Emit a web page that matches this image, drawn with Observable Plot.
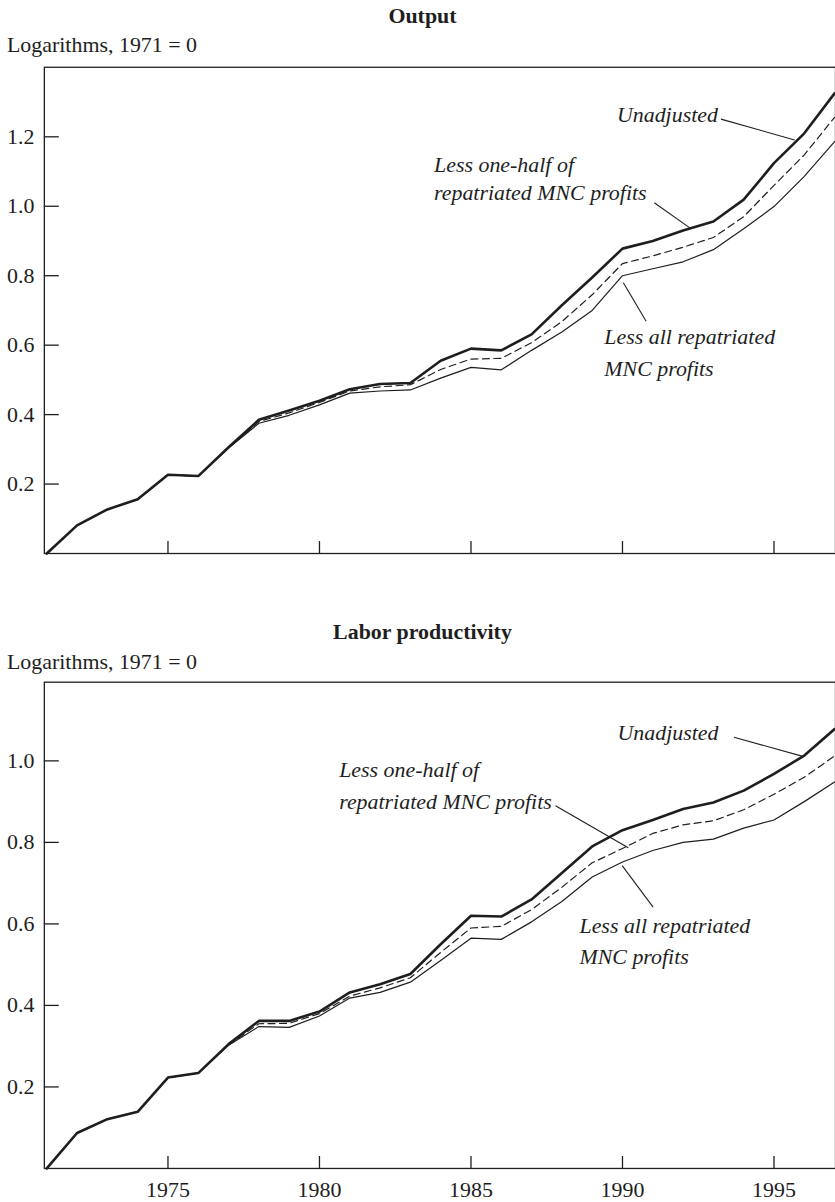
<!DOCTYPE html>
<html><head><meta charset="utf-8">
<script src="https://cdn.jsdelivr.net/npm/d3@7"></script>
<script src="https://cdn.jsdelivr.net/npm/@observablehq/plot@0.6"></script>
<style>
html,body{margin:0;padding:0;background:#fff;overflow:hidden;}
#wrap{position:relative;width:835px;height:1202px;overflow:hidden;background:#fff;}
#wrap svg{position:absolute;left:0;}
</style></head><body><div id="wrap"></div>
<script>
// ---------- data ----------
const years = [1971,1972,1973,1974,1975,1976,1977,1978,1979,1980,1981,1982,1983,1984,1985,1986,1987,1988,1989,1990,1991,1992,1993,1994,1995,1996,1997];

const outputUnadjusted = [0,0.081,0.127,0.156,0.227,0.223,0.306,0.385,0.412,0.440,0.473,0.488,0.491,0.555,0.590,0.585,0.631,0.715,0.795,0.878,0.900,0.930,0.956,1.019,1.124,1.210,1.325];
const outputLessHalf   = [0,0.081,0.127,0.156,0.227,0.223,0.305,0.380,0.405,0.435,0.468,0.480,0.486,0.530,0.560,0.562,0.607,0.668,0.745,0.835,0.857,0.882,0.910,0.970,1.060,1.148,1.256];
const outputLessAll    = [0,0.081,0.127,0.156,0.227,0.223,0.304,0.375,0.398,0.428,0.462,0.468,0.471,0.505,0.536,0.529,0.585,0.638,0.700,0.800,0.820,0.840,0.875,0.935,0.999,1.086,1.186];

const prodUnadjusted = [0,0.087,0.121,0.139,0.223,0.234,0.305,0.362,0.362,0.385,0.432,0.452,0.477,0.550,0.620,0.618,0.660,0.725,0.790,0.830,0.855,0.882,0.898,0.927,0.968,1.013,1.078];
const prodLessHalf   = [0,0.087,0.121,0.139,0.223,0.234,0.303,0.355,0.356,0.380,0.423,0.443,0.468,0.530,0.590,0.594,0.635,0.690,0.750,0.785,0.822,0.843,0.853,0.880,0.918,0.960,1.012];
const prodLessAll    = [0,0.087,0.121,0.139,0.223,0.234,0.302,0.348,0.346,0.374,0.418,0.432,0.457,0.510,0.565,0.562,0.605,0.655,0.715,0.752,0.780,0.800,0.808,0.835,0.855,0.900,0.948];

const xTicks = [1975,1980,1985,1990,1995];
const outputYTicks = [0.2,0.4,0.6,0.8,1.0,1.2];
const prodYTicks = [0.2,0.4,0.6,0.8,1.0];

const panelTitles = ["Output","Labor productivity"];
const unitLabel = "Logarithms, 1971 = 0";

// series labels (year, value, text) and leader lines
const outputLabelsEnd = [{x:1993.15,y:1.263,text:"Unadjusted"}];
const outputLabelsStart = [
  {x:1983.78,y:1.119,text:"Less one-half of"},
  {x:1983.78,y:1.037,text:"repatriated MNC profits"},
  {x:1989.40,y:0.623,text:"Less all repatriated"},
  {x:1989.40,y:0.531,text:"MNC profits"}
];
const outputLeaders = [
  {x1:1993.25,y1:1.251,x2:1995.68,y2:1.191},
  {x1:1991.05,y1:1.010,x2:1992.27,y2:0.935},
  {x1:1990.03,y1:0.780,x2:1990.78,y2:0.669}
];
const prodLabelsEnd = [{x:1993.17,y:1.068,text:"Unadjusted"}];
const prodLabelsStart = [
  {x:1980.65,y:0.978,text:"Less one-half of"},
  {x:1980.65,y:0.900,text:"repatriated MNC profits"},
  {x:1988.58,y:0.594,text:"Less all repatriated"},
  {x:1988.58,y:0.518,text:"MNC profits"}
];
const prodLeaders = [
  {x1:1993.68,y1:1.058,x2:1995.95,y2:1.011},
  {x1:1987.79,y1:0.890,x2:1990.19,y2:0.787},
  {x1:1989.99,y1:0.743,x2:1991.01,y2:0.641}
];

// ---------- drawing ----------
const ink = "#1e1e1e";
const W = 838, ML = 44;
const font = "'Liberation Serif','Times New Roman',Times,serif";

function rowsOf(arr){ return arr.map((v,i)=>({year:years[i], value:v})); }

function panel(o){
  const plotW = W - ML;
  const plotH = o.height - o.marginTop - o.marginBottom;
  const marks = [
    Plot.frame({stroke: ink, strokeWidth: 1.3}),
    Plot.ruleY(o.yTicks, {stroke: ink, strokeWidth: 1.3, insetRight: plotW - 15}),
    Plot.ruleX(xTicks, {stroke: ink, strokeWidth: 1.3, insetTop: plotH - 12}),
    Plot.axisY(o.yTicks, {tickSize: 0, tickPadding: 10, tickFormat: d3.format(".1f"), fontSize: 22, label: null}),
    Plot.line(rowsOf(o.all), {x:"year", y:"value", stroke: ink, strokeWidth: 1.2}),
    Plot.line(rowsOf(o.half), {x:"year", y:"value", stroke: ink, strokeWidth: 1.2, strokeDasharray: "7,4.5"}),
    Plot.line(rowsOf(o.unadj), {x:"year", y:"value", stroke: ink, strokeWidth: 2.6}),
    Plot.link(o.leaders, {x1:"x1", y1:"y1", x2:"x2", y2:"y2", stroke: ink, strokeWidth: 1.1}),
    Plot.text(o.labelsEnd, {x:"x", y:"y", text:"text", textAnchor:"end", fontStyle:"italic", fontSize:22, fill: ink}),
    Plot.text(o.labelsStart, {x:"x", y:"y", text:"text", textAnchor:"start", fontStyle:"italic", fontSize:22, fill: ink})
  ];
  if (o.xLabels) marks.push(Plot.axisX(xTicks, {tickSize: 0, tickPadding: 13, tickFormat: d => String(d), fontSize: 22, label: null}));
  const svg = Plot.plot({
    width: W, height: o.height,
    marginTop: o.marginTop, marginBottom: o.marginBottom, marginLeft: ML, marginRight: 0,
    style: {fontFamily: font, fontSize: "22px", color: ink, background: "transparent", overflow: "visible"},
    x: {domain: [1970.92, 1997.03], axis: null},
    y: {domain: o.yDomain, axis: null},
    marks
  });
  svg.style.top = o.top + "px";
  const s = d3.select(svg);
  s.append("text").attr("x", 424).attr("y", o.titleBaseline).attr("text-anchor","middle")
    .attr("font-weight","bold").attr("font-size",22).attr("font-family",font).attr("fill",ink).text(o.title);
  s.append("text").attr("x", 7).attr("y", o.unitBaseline).attr("text-anchor","start")
    .attr("font-size",22).attr("font-family",font).attr("fill",ink).text(unitLabel);
  document.getElementById("wrap").appendChild(svg);
}

panel({top:0, height:600, marginTop:67, marginBottom:45, yDomain:[0,1.4003], yTicks: outputYTicks,
  unadj: outputUnadjusted, half: outputLessHalf, all: outputLessAll,
  labelsEnd: outputLabelsEnd, labelsStart: outputLabelsStart, leaders: outputLeaders,
  xLabels:false, title: panelTitles[0], titleBaseline: 23, unitBaseline: 52.5});

panel({top:600, height:602, marginTop:82, marginBottom:32, yDomain:[0,1.193], yTicks: prodYTicks,
  unadj: prodUnadjusted, half: prodLessHalf, all: prodLessAll,
  labelsEnd: prodLabelsEnd, labelsStart: prodLabelsStart, leaders: prodLeaders,
  xLabels:true, title: panelTitles[1], titleBaseline: 39, unitBaseline: 69});
</script></body></html>
